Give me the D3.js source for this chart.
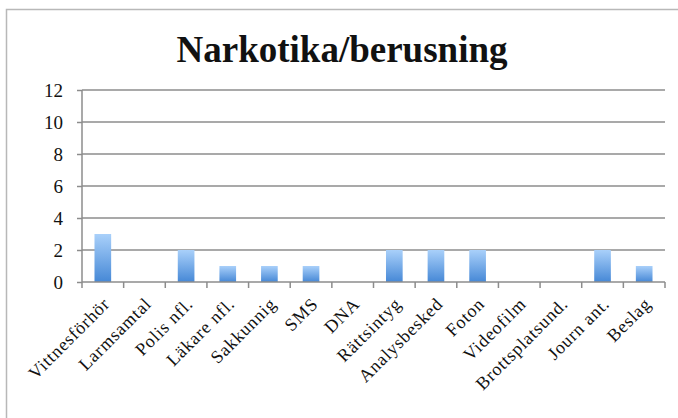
<!DOCTYPE html>
<html>
<head>
<meta charset="utf-8">
<script src="https://cdn.jsdelivr.net/npm/d3@7"></script>
<style>
  body { margin: 0; background: #fff; }
  text { font-family: "Liberation Serif", "DejaVu Serif", serif; fill: #111; }
</style>
</head>
<body>
<div id="chart"></div>
<script>
// chart data
var categories = ["Vittnesförhör", "Larmsamtal", "Polis nfl.", "Läkare nfl.", "Sakkunnig", "SMS", "DNA",
                  "Rättsintyg", "Analysbesked", "Foton", "Videofilm", "Brottsplatsund.", "Journ ant.", "Beslag"];
var values = [3, 0, 2, 1, 1, 1, 0, 2, 2, 2, 0, 0, 2, 1];
var yTicks = [0, 2, 4, 6, 8, 10, 12];
var title = "Narkotika/berusning";

var W = 678, H = 418;
var margin = {top: 90, right: 13, bottom: 136, left: 82},
    width = W - margin.left - margin.right,
    height = H - margin.top - margin.bottom;

var svg = d3.select("#chart").append("svg")
    .attr("width", W)
    .attr("height", H);

// outer frame (only top/left visible)
svg.append("rect")
    .attr("x", 6.5).attr("y", 9.5)
    .attr("width", W).attr("height", H)
    .attr("fill", "none")
    .attr("stroke", "#b8b8b8")
    .attr("stroke-width", 1.5);

var defs = svg.append("defs");
var grad = defs.append("linearGradient")
    .attr("id", "barGrad")
    .attr("x1", 0).attr("y1", 0).attr("x2", 0).attr("y2", 1);
grad.append("stop").attr("offset", "0%").attr("stop-color", "#a9d0fa");
grad.append("stop").attr("offset", "100%").attr("stop-color", "#4688d6");

var g = svg.append("g")
    .attr("transform", "translate(" + margin.left + "," + margin.top + ")");

var x = d3.scaleBand()
    .domain(categories)
    .range([0, width])
    .paddingInner(0.6)
    .paddingOuter(0.3);

var y = d3.scaleLinear()
    .domain([0, 12])
    .range([height, 0]);

// gridlines
g.selectAll(".grid")
  .data(yTicks.filter(d => d > 0))
  .enter().append("line")
    .attr("class", "grid")
    .attr("x1", 0).attr("x2", width)
    .attr("y1", d => y(d)).attr("y2", d => y(d))
    .attr("stroke", "#8c8c8c")
    .attr("stroke-width", 1.5);

// bars
g.selectAll(".bar")
  .data(values)
  .enter().append("rect")
    .attr("class", "bar")
    .attr("x", (d, i) => x(categories[i]))
    .attr("width", x.bandwidth())
    .attr("y", d => y(d))
    .attr("height", d => height - y(d))
    .attr("fill", "url(#barGrad)");

// y axis
var yAxis = g.append("g")
    .call(d3.axisLeft(y).tickValues(yTicks).tickSize(5).tickPadding(14));
yAxis.selectAll("line").attr("stroke", "#8c8c8c").attr("stroke-width", 1.5);
yAxis.select(".domain").attr("stroke", "#8c8c8c").attr("stroke-width", 1.5).attr("d", "M0," + height + "V0");
yAxis.selectAll("text").style("font-size", "19px").attr("fill", "#111");

// x axis with boundary ticks
var step = width / categories.length;
var xg = g.append("g").attr("transform", "translate(0," + height + ")");
xg.append("line")
    .attr("x1", 0).attr("x2", width)
    .attr("stroke", "#8c8c8c").attr("stroke-width", 1.5);
xg.selectAll(".tk")
  .data(d3.range(categories.length + 1))
  .enter().append("line")
    .attr("x1", d => d * step).attr("x2", d => d * step)
    .attr("y1", 0).attr("y2", 6)
    .attr("stroke", "#8c8c8c").attr("stroke-width", 1.5);

xg.selectAll(".lbl")
  .data(categories)
  .enter().append("text")
    .attr("text-anchor", "end")
    .attr("transform", d => "translate(" + (x(d) + x.bandwidth() / 2 + 8) + ",23) rotate(-45)")
    .style("font-size", "18px")
    .style("letter-spacing", "0.8px")
    .text(d => d);

// title
svg.append("text")
    .attr("x", 342)
    .attr("y", 62)
    .attr("text-anchor", "middle")
    .style("font-size", "37px")
    .style("font-weight", "bold")
    .text(title);
</script>
</body>
</html>
